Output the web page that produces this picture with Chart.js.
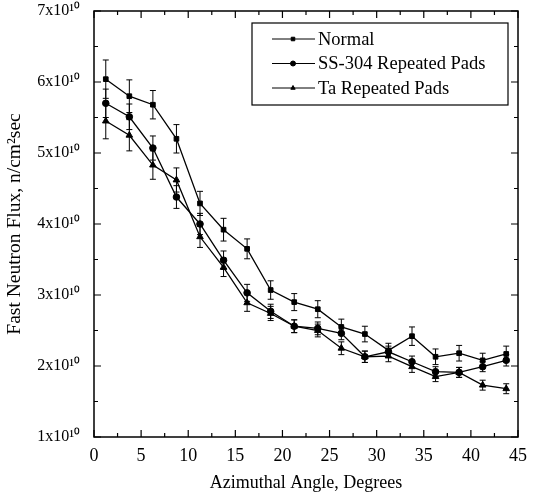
<!DOCTYPE html>
<html>
<head>
<meta charset="utf-8">
<style>
  html, body { margin: 0; padding: 0; background: #fff; }
</style>
</head>
<body>
<canvas id="fluxChart" width="533" height="497"></canvas>

<script src="https://cdn.jsdelivr.net/npm/chart.js"></script>
<script>
// Azimuthal angle (degrees) of each measurement
const angles = [1.25, 3.75, 6.25, 8.75, 11.25, 13.75, 16.25, 18.75, 21.25,
                23.75, 26.25, 28.75, 31.25, 33.75, 36.25, 38.75, 41.25, 43.75];

// Fast neutron flux, in units of 1x10^10 n/cm2 sec
const normalFlux = [6.04, 5.80, 5.68, 5.20, 4.29, 3.92, 3.65, 3.07, 2.90,
                    2.80, 2.55, 2.45, 2.22, 2.42, 2.13, 2.18, 2.08, 2.17];
const ssFlux     = [5.70, 5.51, 5.07, 4.38, 4.00, 3.49, 3.03, 2.77, 2.56,
                    2.53, 2.46, 2.13, 2.20, 2.06, 1.92, 1.91, 1.99, 2.08];
const taFlux     = [5.45, 5.25, 4.83, 4.62, 3.82, 3.39, 2.89, 2.74, 2.56,
                    2.50, 2.25, 2.13, 2.14, 1.99, 1.85, 1.91, 1.73, 1.68];

// error bar half-widths, same units
const normalErr = [0.27, 0.23, 0.20, 0.20, 0.17, 0.16, 0.14, 0.13, 0.12,
                   0.12, 0.11, 0.11, 0.10, 0.13, 0.11, 0.11, 0.10, 0.11];
const ssErr     = [0.20, 0.18, 0.17, 0.16, 0.15, 0.13, 0.12, 0.10, 0.09,
                   0.09, 0.09, 0.08, 0.08, 0.08, 0.07, 0.07, 0.07, 0.08];
const taErr     = [0.25, 0.22, 0.20, 0.17, 0.15, 0.13, 0.12, 0.10, 0.09,
                   0.09, 0.09, 0.08, 0.08, 0.08, 0.07, 0.07, 0.07, 0.07];

const seriesNames = ['Normal', 'SS-304 Repeated Pads', 'Ta Repeated Pads'];
const yTickValues = [1, 2, 3, 4, 5, 6, 7];
const xTickValues = [0, 5, 10, 15, 20, 25, 30, 35, 40, 45];

const serif = "'Liberation Serif', 'Times New Roman', serif";

function toPoints(vals) {
    return angles.map((a, i) => ({ x: a, y: vals[i] }));
}

// error bars with caps
const errorBars = {
    id: 'errorBars',
    afterDatasetsDraw(chart) {
        const ctx = chart.ctx;
        const yScale = chart.scales.y;
        ctx.save();
        ctx.strokeStyle = '#000';
        ctx.lineWidth = 1;
        chart.data.datasets.forEach((ds, di) => {
            const meta = chart.getDatasetMeta(di);
            meta.data.forEach((pt, i) => {
                const v = ds.data[i].y;
                const e = ds.errors[i];
                const yTop = yScale.getPixelForValue(v + e);
                const yBot = yScale.getPixelForValue(v - e);
                ctx.beginPath();
                ctx.moveTo(pt.x, yTop); ctx.lineTo(pt.x, yBot);
                ctx.moveTo(pt.x - 3, yTop); ctx.lineTo(pt.x + 3, yTop);
                ctx.moveTo(pt.x - 3, yBot); ctx.lineTo(pt.x + 3, yBot);
                ctx.stroke();
            });
        });
        ctx.restore();
    }
};

// box round the plot and inward ticks on all four sides
const frameTicks = {
    id: 'frameTicks',
    afterDraw(chart) {
        const { ctx, chartArea: a, scales: { x, y } } = chart;
        ctx.save();
        ctx.strokeStyle = '#000';
        ctx.lineWidth = 1.5;
        ctx.strokeRect(a.left, a.top, a.right - a.left, a.bottom - a.top);
        ctx.lineWidth = 1.2;
        ctx.beginPath();
        x.ticks.forEach(t => {
            const px = x.getPixelForValue(t.value);
            const len = t.value % 5 === 0 ? 7 : 4;
            ctx.moveTo(px, a.bottom); ctx.lineTo(px, a.bottom - len);
            ctx.moveTo(px, a.top); ctx.lineTo(px, a.top + len);
        });
        y.ticks.forEach(t => {
            const py = y.getPixelForValue(t.value);
            const len = Number.isInteger(t.value) ? 7 : 4;
            ctx.moveTo(a.left, py); ctx.lineTo(a.left + len, py);
            ctx.moveTo(a.right, py); ctx.lineTo(a.right - len, py);
        });
        ctx.stroke();
        ctx.restore();
    }
};

// legend box in the upper right corner of the plot
const boxLegend = {
    id: 'boxLegend',
    afterDraw(chart) {
        const { ctx, chartArea: a } = chart;
        const bx = a.left + 158, by = a.top + 12, bw = 256, bh = 82;
        ctx.save();
        ctx.fillStyle = '#fff';
        ctx.fillRect(bx, by, bw, bh);
        ctx.strokeStyle = '#000';
        ctx.lineWidth = 1.2;
        ctx.strokeRect(bx, by, bw, bh);
        ctx.font = '18.5px ' + serif;
        ctx.textBaseline = 'middle';
        chart.data.datasets.forEach((ds, i) => {
            const ly = by + 16 + i * 24.5;
            ctx.beginPath();
            ctx.lineWidth = 1;
            ctx.moveTo(bx + 20, ly); ctx.lineTo(bx + 63, ly);
            ctx.stroke();
            ctx.fillStyle = '#000';
            Chart.helpers.drawPoint(ctx, {
                pointStyle: ds.pointStyle, radius: 2.5, borderWidth: 1
            }, bx + 41, ly);
            ctx.fillText(ds.label, bx + 66, ly + 1);
        });
        ctx.restore();
    }
};

const common = {
    borderColor: '#000',
    backgroundColor: '#000',
    borderWidth: 1.3,
    pointRadius: 3.3,
    pointBorderWidth: 1,
    fill: false,
    tension: 0
};

const chart = new Chart(document.getElementById('fluxChart'), {
    type: 'line',
    data: {
        datasets: [
            { ...common, label: seriesNames[0], data: toPoints(normalFlux), errors: normalErr, pointStyle: 'rect' },
            { ...common, label: seriesNames[1], data: toPoints(ssFlux), errors: ssErr, pointStyle: 'circle' },
            { ...common, label: seriesNames[2], data: toPoints(taFlux), errors: taErr, pointStyle: 'triangle', pointRadius: 3.8 }
        ]
    },
    options: {
        responsive: false,
        animation: false,
        layout: { padding: { top: 11, right: 15, left: 0, bottom: 0 } },
        plugins: {
            legend: { display: false },
            tooltip: { enabled: false }
        },
        scales: {
            x: {
                type: 'linear',
                min: 0, max: 45,
                grid: { display: false },
                border: { display: false },
                afterFit(scale) {
                    scale.height = 60;
                    scale.paddingLeft = 0;
                    scale.paddingRight = 0;
                },
                ticks: {
                    stepSize: 2.5,
                    autoSkip: false,
                    maxRotation: 0,
                    padding: 0,
                    color: '#000',
                    font: { family: serif, size: 18 },
                    callback: v => xTickValues.includes(v) ? String(v) : ''
                },
                title: {
                    display: true,
                    text: 'Azimuthal Angle, Degrees',
                    color: '#000',
                    font: { family: serif, size: 18 },
                    padding: { top: 8, bottom: 3 }
                }
            },
            y: {
                type: 'linear',
                min: 1, max: 7,
                grid: { display: false },
                border: { display: false },
                afterFit(scale) {
                    scale.width = 94;
                    scale.paddingTop = 0;
                    scale.paddingBottom = 0;
                },
                ticks: {
                    stepSize: 0.5,
                    autoSkip: false,
                    padding: 6,
                    color: '#000',
                    font: { family: serif, size: 16 },
                    callback: v => yTickValues.includes(v) ? v + 'x10\u00b9\u2070' : ''
                },
                title: {
                    display: true,
                    text: 'Fast Neutron Flux, n/cm\u00b2sec',
                    color: '#000',
                    font: { family: serif, size: 19.5 },
                    padding: { top: 3, bottom: 0 }
                }
            }
        }
    },
    plugins: [errorBars, frameTicks, boxLegend]
});
</script>
</body>
</html>
